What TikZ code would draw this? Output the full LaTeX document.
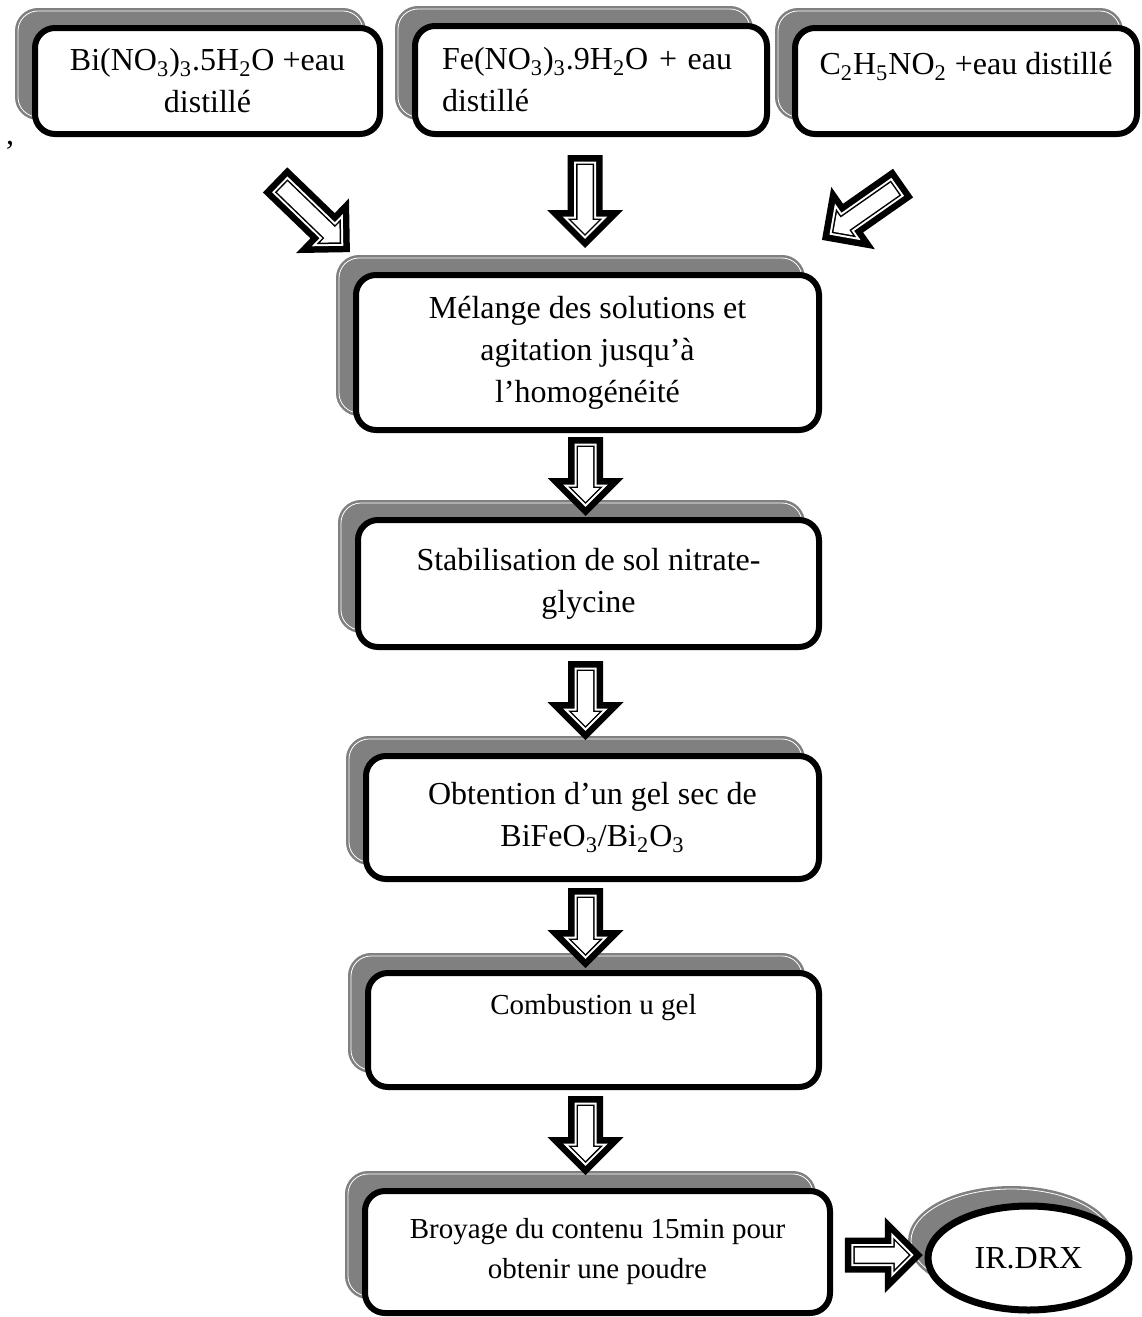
\documentclass[tikz,border=0pt]{standalone}
\usepackage{fontspec}
\setmainfont{Liberation Serif}
\usetikzlibrary{shapes.geometric,shadows,calc}
\definecolor{gris}{RGB}{128,128,128}

\tikzset{
  ombre/.style={
    general shadow={shadow xshift=-8.5pt,shadow yshift=8.5pt,fill=gris,draw=gris,line width=3pt},
    general shadow={shadow xshift=-8.5pt,shadow yshift=8.5pt,draw=white,line width=0.4pt}},
  boite/.style={draw,line width=3pt,rounded corners=10pt,fill=white,align=center,inner sep=0pt,ombre},
  taille/.style 2 args={minimum width=#1*0.5pt,minimum height=#2*0.5pt},
  petit/.style={font=\fontsize{14.5}{20}\selectfont},
  fleche/.pic={
    \pgfmathsetmacro\demi{#1/2}
    \foreach \ecart/\couleur in {0/black,6.5/white,8.5/black,10/white}{
      \fill[\couleur] ({-\demi+\ecart},{-17.5+\ecart}) -- ({\demi-38+\ecart},{-17.5+\ecart})
        -- ({\demi-38+\ecart},{-38+2.414*\ecart}) -- ({\demi-1.414*\ecart},0)
        -- ({\demi-38+\ecart},{38-2.414*\ecart}) -- ({\demi-38+\ecart},{17.5-\ecart})
        -- ({-\demi+\ecart},{17.5-\ecart}) -- cycle;
    }
  }
}

\begin{document}
\begin{tikzpicture}[x=0.5pt,y=0.5pt,yscale=-1,font=\fontsize{16}{21}\selectfont]
\useasboundingbox (0,0) rectangle (1141,1317);

% Solutions de depart
\node[boite,taille={345}{106}] (bi) at (207.5,81) {Bi(NO\textsubscript{3})\textsubscript{3}.5H\textsubscript{2}O +eau\\distillé};
\node[boite,taille={352}{108},align=left,text width=149pt] (fe) at (591,80) {Fe(NO\textsubscript{3})\textsubscript{3}.9H\textsubscript{2}O + eau\\distillé};
\node[boite,taille={342}{106}] (gly) at (966,81) {C\textsubscript{2}H\textsubscript{5}NO\textsubscript{2} +eau distillé\\[-10pt]\strut};
\node[anchor=base,inner sep=0pt] (virgule) at (10,144) {,};

% Etapes
\node[boite,taille={463}{155}] (melange) at (587.5,352.5) {Mélange des solutions et\\agitation jusqu’à\\l’homogénéité};
\node[boite,taille={461}{127}] (stab) at (588.5,583.5) {Stabilisation de sol nitrate-\\glycine};
\node[boite,taille={453}{123}] (obt) at (592.5,817.5) {Obtention d’un gel sec de\\BiFeO\textsubscript{3}/Bi\textsubscript{2}O\textsubscript{3}};
\node[boite,petit,taille={451}{114}] (comb) at (593.5,1030) {Combustion u gel\\\strut};
\node[boite,petit,taille={465}{122}] (broy) at (597.5,1252) {Broyage du contenu 15min pour\\obtenir une poudre};
\node[ellipse,draw,line width=3.5pt,fill=white,ombre,inner sep=0pt,taille={201}{104}] (irdrx) at (1028.5,1258) {IR.DRX};

% Fleches
\pic[rotate=-44] at (312.5,216) {fleche=104};
\pic[rotate=-90] at (585,201.5) {fleche=93};
\pic[rotate=-145] at (862.5,211.5) {fleche=99};
\pic[rotate=-90] at (585.5,476.5) {fleche=79};
\pic[rotate=-90] at (585.5,700.5) {fleche=79};
\pic[rotate=-90] at (585.5,928) {fleche=80};
\pic[rotate=-90] at (585.5,1135.5) {fleche=79};
\pic at ($(broy.east)!.5!(irdrx.west)+(5,0)$) {fleche=78};

\end{tikzpicture}
\end{document}
